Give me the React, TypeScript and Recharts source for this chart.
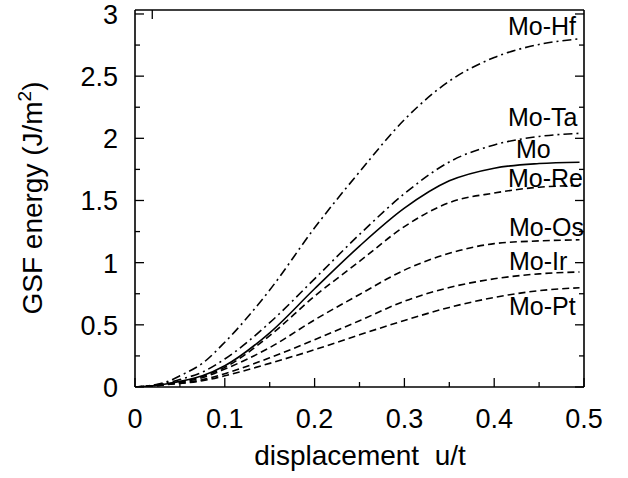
import React from 'react';
import { LineChart, Line, XAxis, YAxis } from 'recharts';

const displacement = [0, 0.02, 0.04, 0.05, 0.075, 0.1, 0.15, 0.2, 0.25, 0.3, 0.35, 0.4, 0.45, 0.495];
const moHf = [0, 0.015, 0.055, 0.09, 0.19, 0.36, 0.78, 1.28, 1.73, 2.15, 2.46, 2.65, 2.755, 2.8];
const moTa = [0, 0.012, 0.04, 0.06, 0.12, 0.225, 0.517, 0.87, 1.227, 1.555, 1.81, 1.947, 2.015, 2.04];
const mo = [0, 0.01, 0.03, 0.045, 0.09, 0.171, 0.436, 0.79, 1.133, 1.438, 1.658, 1.76, 1.797, 1.808];
const moRe = [0, 0.01, 0.03, 0.042, 0.085, 0.158, 0.413, 0.73, 1.01, 1.29, 1.483, 1.56, 1.607, 1.62];
const moOs = [0, 0.01, 0.03, 0.04, 0.075, 0.144, 0.317, 0.54, 0.744, 0.94, 1.075, 1.153, 1.175, 1.184];
const moIr = [0, 0.008, 0.025, 0.032, 0.058, 0.107, 0.235, 0.38, 0.533, 0.69, 0.8, 0.87, 0.91, 0.925];
const moPt = [0, 0.008, 0.022, 0.028, 0.05, 0.09, 0.19, 0.3, 0.42, 0.535, 0.64, 0.72, 0.775, 0.798];

const xTicks = [0, 0.05, 0.1, 0.15, 0.2, 0.25, 0.3, 0.35, 0.4, 0.45, 0.5];
const xMajor = [0, 0.1, 0.2, 0.3, 0.4, 0.5];
const xTickLabels = ['0', '0.1', '0.2', '0.3', '0.4', '0.5'];
const yTicks = [0, 0.25, 0.5, 0.75, 1, 1.25, 1.5, 1.75, 2, 2.25, 2.5, 2.75, 3];
const yMajor = [0, 0.5, 1, 1.5, 2, 2.5, 3];
const yTickLabels = ['0', '0.5', '1', '1.5', '2', '2.5', '3'];

const seriesLabels = ['Mo-Hf', 'Mo-Ta', 'Mo', 'Mo-Re', 'Mo-Os', 'Mo-Ir', 'Mo-Pt'];

const data = displacement.map((u, i) => ({
  u,
  hf: moHf[i],
  ta: moTa[i],
  mo: mo[i],
  re: moRe[i],
  os: moOs[i],
  ir: moIr[i],
  pt: moPt[i],
}));

const FONT = '"Liberation Sans", Arial, Helvetica, sans-serif';
const majorIndex = (v: number, majors: number[]) => majors.findIndex((m) => Math.abs(m - v) < 1e-9);

const BottomTick = (props: any) => {
  const { x, y, payload } = props;
  const idx = majorIndex(payload.value, xMajor);
  const len = idx >= 0 ? 9 : 5;
  return (
    <g>
      <line x1={x} x2={x} y1={y} y2={y - len} stroke="black" strokeWidth={1.3} />
      {idx >= 0 && (
        <text x={x} y={y + 41} textAnchor="middle" fontSize={27} fontFamily={FONT} fill="black">
          {xTickLabels[idx]}
        </text>
      )}
    </g>
  );
};

const TopTick = (props: any) => {
  const { x, y, payload } = props;
  const idx = majorIndex(payload.value, xMajor);
  const len = idx >= 0 ? 9 : 5;
  return <line x1={x} x2={x} y1={y} y2={y + len} stroke="black" strokeWidth={1.3} />;
};

const LeftTick = (props: any) => {
  const { x, y, payload } = props;
  const idx = majorIndex(payload.value, yMajor);
  const len = idx >= 0 ? 9 : 5;
  return (
    <g>
      <line x1={x} x2={x + len} y1={y} y2={y} stroke="black" strokeWidth={1.3} />
      {idx >= 0 && (
        <text x={x - 17} y={y + 10} textAnchor="end" fontSize={27} fontFamily={FONT} fill="black">
          {yTickLabels[idx]}
        </text>
      )}
    </g>
  );
};

const RightTick = (props: any) => {
  const { x, y, payload } = props;
  const idx = majorIndex(payload.value, yMajor);
  const len = idx >= 0 ? 9 : 5;
  return <line x1={x} x2={x - len} y1={y} y2={y} stroke="black" strokeWidth={1.3} />;
};

const DASH = '7 4';
const DASHDOT = '9 4 2 4';

const labelPos = [
  { x: 508, y: 35 },
  { x: 508, y: 126 },
  { x: 516, y: 158 },
  { x: 508, y: 187 },
  { x: 509, y: 236 },
  { x: 509, y: 270 },
  { x: 509, y: 315 },
];

export default function App() {
  return (
    <div style={{ position: 'absolute', left: 0, top: 0, background: '#fff' }}>
      <LineChart width={628} height={478} data={data} margin={{ top: 9, right: 43, bottom: 0, left: 0 }}>
        <XAxis
          xAxisId="b"
          dataKey="u"
          type="number"
          domain={[0, 0.5]}
          ticks={xTicks}
          height={91}
          axisLine={{ stroke: 'black', strokeWidth: 1.6 }}
          tickLine={false}
          tickSize={0}
          tickMargin={0}
          tick={<BottomTick />}
        />
        <XAxis
          xAxisId="t"
          orientation="top"
          type="number"
          domain={[0, 0.5]}
          allowDataOverflow
          ticks={xTicks}
          height={1}
          axisLine={{ stroke: 'black', strokeWidth: 1.6 }}
          tickLine={false}
          tickSize={0}
          tickMargin={0}
          tick={<TopTick />}
        />
        <YAxis
          yAxisId="l"
          type="number"
          domain={[0, 3.032]}
          allowDataOverflow
          ticks={yTicks}
          width={135}
          axisLine={{ stroke: 'black', strokeWidth: 1.6 }}
          tickLine={false}
          tickSize={0}
          tickMargin={0}
          tick={<LeftTick />}
        />
        <YAxis
          yAxisId="r"
          orientation="right"
          type="number"
          domain={[0, 3.032]}
          allowDataOverflow
          ticks={yTicks}
          width={1}
          axisLine={{ stroke: 'black', strokeWidth: 1.6 }}
          tickLine={false}
          tickSize={0}
          tickMargin={0}
          tick={<RightTick />}
        />
        <Line xAxisId="b" yAxisId="l" dataKey="hf" type="monotone" stroke="black" strokeWidth={1.6} strokeDasharray={DASHDOT} dot={false} isAnimationActive={false} />
        <Line xAxisId="b" yAxisId="l" dataKey="ta" type="monotone" stroke="black" strokeWidth={1.6} strokeDasharray={DASHDOT} dot={false} isAnimationActive={false} />
        <Line xAxisId="b" yAxisId="l" dataKey="mo" type="monotone" stroke="black" strokeWidth={1.6} dot={false} isAnimationActive={false} />
        <Line xAxisId="b" yAxisId="l" dataKey="re" type="monotone" stroke="black" strokeWidth={1.6} strokeDasharray={DASH} dot={false} isAnimationActive={false} />
        <Line xAxisId="b" yAxisId="l" dataKey="os" type="monotone" stroke="black" strokeWidth={1.6} strokeDasharray={DASH} dot={false} isAnimationActive={false} />
        <Line xAxisId="b" yAxisId="l" dataKey="ir" type="monotone" stroke="black" strokeWidth={1.6} strokeDasharray={DASH} dot={false} isAnimationActive={false} />
        <Line xAxisId="b" yAxisId="l" dataKey="pt" type="monotone" stroke="black" strokeWidth={1.6} strokeDasharray={DASH} dot={false} isAnimationActive={false} />
        {seriesLabels.map((s, i) => (
          <text key={s} x={labelPos[i].x} y={labelPos[i].y} fontSize={25} fontFamily={FONT} fill="black">
            {s}
          </text>
        ))}
        <text x={360} y={465} textAnchor="middle" fontSize={28} fontFamily={FONT} fill="black" style={{ whiteSpace: 'pre' }}>
          {'displacement  u/t'}
        </text>
        <text x={42} y={198} transform="rotate(-90 42 198)" textAnchor="middle" fontSize={28} fontFamily={FONT} fill="black">
          GSF energy (J/m<tspan dy={-11} fontSize={19}>2</tspan><tspan dy={11}>)</tspan>
        </text>
      </LineChart>
    </div>
  );
}
